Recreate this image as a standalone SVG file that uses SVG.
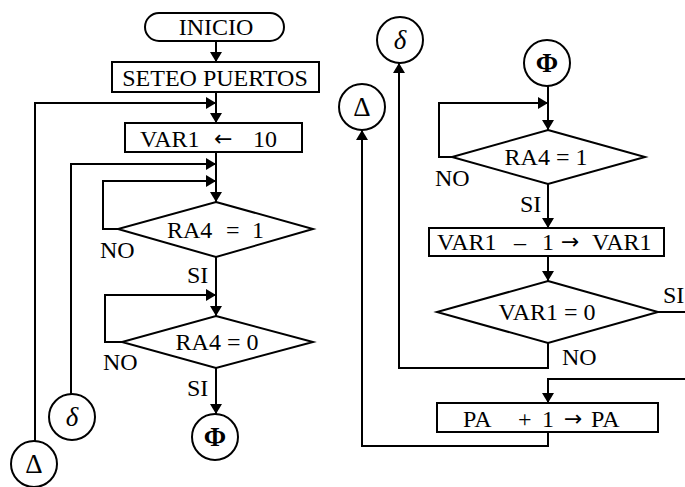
<svg xmlns="http://www.w3.org/2000/svg" width="685" height="487" viewBox="0 0 685 487">
<defs>
<marker id="ah" markerUnits="userSpaceOnUse" markerWidth="12" markerHeight="12" refX="10" refY="6" orient="auto">
<path d="M0,0 L10,6 L0,12 z" fill="#000"/>
</marker>
<style>
.s{fill:#fff;stroke:#000;stroke-width:2}
.c{fill:none;stroke:#000;stroke-width:2}
.t{font-family:"Liberation Serif","Times New Roman",serif;font-size:24px;fill:#000}
.m{text-anchor:middle}
.a{font-family:"DejaVu Sans","Liberation Sans",sans-serif;font-size:22px}
.g{font-size:27px}
</style>
</defs>
<rect width="685" height="487" fill="#fff"/>
<g id="connectors" class="c">
<path d="M216,41 V62" marker-end="url(#ah)"/>
<path d="M216,92 V123" marker-end="url(#ah)"/>
<path d="M35,441 V103 H216" marker-end="url(#ah)"/>
<path d="M216,152 V202" marker-end="url(#ah)"/>
<path d="M71,394 V164 H216" marker-end="url(#ah)"/>
<path d="M118,229 H103 V181 H216" marker-end="url(#ah)"/>
<path d="M216,257 V316" marker-end="url(#ah)"/>
<path d="M122,342 H105 V295 H216" marker-end="url(#ah)"/>
<path d="M216,368 V414" marker-end="url(#ah)"/>
<path d="M548,86 V130" marker-end="url(#ah)"/>
<path d="M452,157 H439 V103 H548" marker-end="url(#ah)"/>
<path d="M548,184 V228" marker-end="url(#ah)"/>
<path d="M548,256 V281" marker-end="url(#ah)"/>
<path d="M658,312 H685"/>
<path d="M548,343 V368 H399 V63" marker-end="url(#ah)"/>
<path d="M685,379 H548 V403" marker-end="url(#ah)"/>
<path d="M548,432 V446 H362 V130" marker-end="url(#ah)"/>
</g>
<g id="inicio"><rect class="s" x="145" y="13" width="139" height="28" rx="14"/><text class="t m" x="216" y="35">INICIO</text></g>
<g id="seteo"><rect class="s" x="112" y="62" width="207" height="30"/><text class="t m" x="215" y="86">SETEO PUERTOS</text></g>
<g id="var1init"><rect class="s" x="125" y="123" width="177" height="29"/><text class="t" y="147"><tspan x="140">VAR1</tspan><tspan class="a" x="214" y="146">←</tspan><tspan x="253" y="147">10</tspan></text></g>
<g id="ra4eq1a"><polygon class="s" points="216,202 313,229 216,257 118,229"/><text class="t" y="238"><tspan x="167">RA4</tspan><tspan x="226">=</tspan><tspan x="252">1</tspan></text>
<text class="t" x="100" y="258">NO</text><text class="t" x="187" y="283">SI</text></g>
<g id="ra4eq0"><polygon class="s" points="216,316 313,342 216,368 122,342"/><text class="t m" x="217" y="350">RA4 = 0</text>
<text class="t" x="103" y="370">NO</text><text class="t" x="187" y="396">SI</text></g>
<g id="phiL"><circle class="s" cx="215" cy="437" r="23"/><text class="t m g" x="215" y="446" font-weight="bold">Φ</text></g>
<g id="deltaL"><circle class="s" cx="72" cy="417" r="23"/><text class="t m g" x="72" y="426" font-style="italic">δ</text></g>
<g id="DeltaL"><circle class="s" cx="34" cy="464" r="23"/><text class="t m g" x="34" y="473">Δ</text></g>
<g id="phiR"><circle class="s" cx="547" cy="63" r="23"/><text class="t m g" x="547" y="72" font-weight="bold">Φ</text></g>
<g id="deltaR"><circle class="s" cx="400" cy="40" r="23"/><text class="t m g" x="400" y="49" font-style="italic">δ</text></g>
<g id="DeltaR"><circle class="s" cx="362" cy="107" r="23"/><text class="t m g" x="362" y="116">Δ</text></g>
<g id="ra4eq1b"><polygon class="s" points="548,130 645,157 548,184 452,157"/><text class="t m" x="546" y="165">RA4 = 1</text>
<text class="t" x="435" y="186">NO</text><text class="t" x="520" y="212">SI</text></g>
<g id="var1dec"><rect class="s" x="429" y="228" width="235" height="28"/><text class="t" y="250"><tspan x="437">VAR1</tspan><tspan x="514">–</tspan><tspan x="542">1</tspan><tspan class="a" x="561" y="249">→</tspan><tspan x="592" y="250">VAR1</tspan></text></g>
<g id="var1eq0"><polygon class="s" points="548,281 658,312 548,343 437,312"/><text class="t m" x="547" y="320">VAR1 = 0</text>
<text class="t" x="663" y="303">SI</text><text class="t" x="562" y="365">NO</text></g>
<g id="painc"><rect class="s" x="437" y="403" width="221" height="29"/><text class="t" y="427"><tspan x="463">PA</tspan><tspan x="518">+</tspan><tspan x="542">1</tspan><tspan class="a" x="564" y="426" font-size="17">→</tspan><tspan x="591" y="427">PA</tspan></text></g>
</svg>
